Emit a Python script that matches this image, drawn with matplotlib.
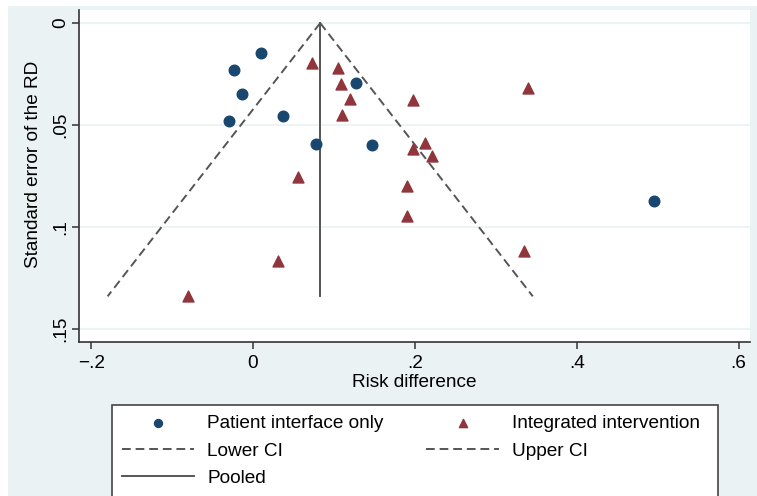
import numpy as np
import matplotlib
matplotlib.use('Agg')
import matplotlib.pyplot as plt
from matplotlib.patches import Rectangle

plt.rcParams['font.family'] = ['Liberation Sans', 'DejaVu Sans']

# patient interface only (blue circles)
pio_rd = [0.010, -0.023, -0.014, -0.030, 0.037, 0.078, 0.127, 0.147, 0.495]
pio_se = [0.0147, 0.0230, 0.0348, 0.0480, 0.0456, 0.0593, 0.0294, 0.0600, 0.0873]

# integrated intervention (red triangles)
ii_rd = [0.073, 0.105, 0.109, 0.120, 0.110, 0.056, 0.198, 0.340, 0.212,
         0.198, 0.221, 0.190, 0.190, 0.335, 0.031, -0.080]
ii_se = [0.0196, 0.0220, 0.0300, 0.0370, 0.0450, 0.0755, 0.0377, 0.0319, 0.0588,
         0.0620, 0.0650, 0.0800, 0.0946, 0.1120, 0.1167, 0.1340]

pooled = 0.083
se_max = 0.134

xticks = [-0.2, 0, 0.2, 0.4, 0.6]
xticklabels = ['\u2212.2', '0', '.2', '.4', '.6']
yticks = [0, 0.05, 0.1, 0.15]
yticklabels = ['0', '.05', '.1', '.15']

navy = '#1a476f'
maroon = '#90353b'
bg = '#eaf2f3'
grey = '#555555'
fs = 13.7

W, H = 757, 496
fig = plt.figure(figsize=(W / 100, H / 100), dpi=100, facecolor='white')
# light blue graph region
fig.patches.append(Rectangle((8 / W, 0), 1 - 8 / W, 1 - 6 / H, transform=fig.transFigure,
                             facecolor=bg, edgecolor='none', zorder=-10))
# legend box (runs off the bottom of the image like the original)
fig.patches.append(Rectangle((112 / W, -0.02), (718 - 112) / W, (496 - 405) / H + 0.02,
                             transform=fig.transFigure, facecolor='white',
                             edgecolor='#444444', lw=1.2, zorder=-5))

ax = fig.add_axes([79 / W, 1 - 342 / H, (750 - 79) / W, (342 - 10) / H])
ax.set_facecolor('white')
ax.set_xlim(-0.215, 0.614)
ax.set_ylim(0.1564, -0.0064)

for y in yticks:
    ax.axhline(y, color=bg, lw=1.2, zorder=0)

se_line = np.array([0, se_max])
ax.plot(pooled - 1.96 * se_line, se_line, color=grey, lw=1.4, dashes=(4.5, 2.5), label='Lower CI')
ax.plot(pooled + 1.96 * se_line, se_line, color=grey, lw=1.4, dashes=(4.5, 2.5), label='Upper CI')
ax.plot([pooled, pooled], [0, se_max], color=grey, lw=1.4, label='Pooled')

ax.scatter(pio_rd, pio_se, s=58, marker='o', color=navy, zorder=3, label='Patient interface only')
ax.scatter(ii_rd, ii_se, s=62, marker='^', color=maroon, zorder=3, label='Integrated intervention')

for s in ['top', 'right']:
    ax.spines[s].set_visible(False)
for s in ['left', 'bottom']:
    ax.spines[s].set_color('#333333')
    ax.spines[s].set_linewidth(1.2)

ax.set_xticks(xticks)
ax.set_xticklabels(xticklabels, fontsize=fs)
ax.set_yticks(yticks)
ax.set_yticklabels(yticklabels, fontsize=fs, rotation=90, va='center')
ax.tick_params(length=5, width=1.1, color='#333333', pad=2)
ax.tick_params(axis='x', pad=4)

ax.set_xlabel('Risk difference', fontsize=fs, labelpad=2)
ax.set_ylabel('Standard error of the RD', fontsize=fs)
ax.yaxis.set_label_coords(-0.055, 0.536)

h, l = ax.get_legend_handles_labels()
d = dict(zip(l, h))
order = ['Patient interface only', 'Lower CI', 'Pooled', 'Integrated intervention', 'Upper CI']
leg = fig.legend([d[k] for k in order], order, loc='upper left',
                 bbox_to_anchor=(122 / W, 1 - 415 / H), ncol=2, fontsize=fs,
                 frameon=False, borderpad=0, borderaxespad=0,
                 handlelength=3.8, handletextpad=0.68, labelspacing=0.53,
                 columnspacing=2.25, scatterpoints=1, markerscale=0.75)

fig.savefig('out.png', dpi=100, facecolor='white')
